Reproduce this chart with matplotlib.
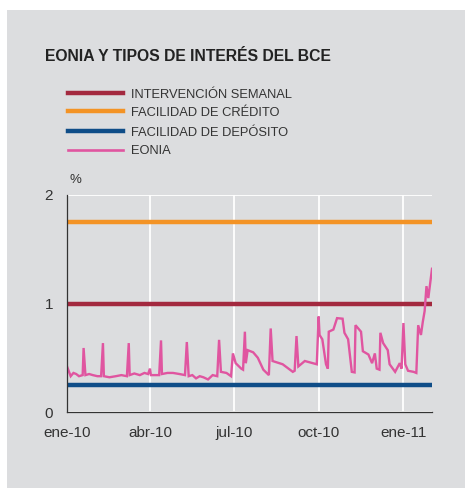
import matplotlib
matplotlib.use("Agg")
import matplotlib.pyplot as plt
from matplotlib.lines import Line2D
from matplotlib.patches import Rectangle
import pandas as pd

plt.rcParams['font.family'] = ['Liberation Sans', 'DejaVu Sans']

# ---- data ----
title = "EONIA Y TIPOS DE INTERÉS DEL BCE"
series_names = ["INTERVENCIÓN SEMANAL", "FACILIDAD DE CRÉDITO",
                "FACILIDAD DE DEPÓSITO", "EONIA"]
intervencion = 1.00
credito = 1.75
deposito = 0.25

eonia_dates = [
    "2010-01-01", "2010-01-05", "2010-01-08", "2010-01-11", "2010-01-14", "2010-01-18",
    "2010-01-19", "2010-01-21", "2010-01-25", "2010-01-29", "2010-02-03", "2010-02-07",
    "2010-02-09", "2010-02-10", "2010-02-16", "2010-02-23", "2010-03-01", "2010-03-07",
    "2010-03-09", "2010-03-10", "2010-03-15", "2010-03-21", "2010-03-26", "2010-03-30",
    "2010-04-01", "2010-04-02", "2010-04-11", "2010-04-13", "2010-04-14", "2010-04-20",
    "2010-04-26", "2010-05-03", "2010-05-09", "2010-05-11", "2010-05-13", "2010-05-17",
    "2010-05-21", "2010-05-25", "2010-05-29", "2010-06-03", "2010-06-08", "2010-06-13",
    "2010-06-15", "2010-06-17", "2010-06-23", "2010-06-28", "2010-06-30", "2010-07-03",
    "2010-07-09", "2010-07-11", "2010-07-13", "2010-07-14", "2010-07-16", "2010-07-22",
    "2010-07-27", "2010-08-02", "2010-08-08", "2010-08-10", "2010-08-12", "2010-08-23",
    "2010-09-03", "2010-09-05", "2010-09-07", "2010-09-09", "2010-09-16", "2010-09-29",
    "2010-10-01", "2010-10-02", "2010-10-05", "2010-10-09", "2010-10-11", "2010-10-12",
    "2010-10-17", "2010-10-21", "2010-10-27", "2010-10-29", "2010-11-02", "2010-11-06",
    "2010-11-09", "2010-11-10", "2010-11-16", "2010-11-18", "2010-11-24", "2010-11-28",
    "2010-12-01", "2010-12-03", "2010-12-06", "2010-12-07", "2010-12-10", "2010-12-15",
    "2010-12-17", "2010-12-23", "2010-12-28", "2010-12-30", "2011-01-01", "2011-01-03",
    "2011-01-06", "2011-01-12", "2011-01-15", "2011-01-17", "2011-01-20", "2011-01-22",
    "2011-01-24", "2011-01-26", "2011-01-28", "2011-02-01",
]
eonia_values = [
    0.42, 0.33, 0.36, 0.35, 0.33, 0.34,
    0.59, 0.34, 0.35, 0.34, 0.33, 0.33,
    0.635, 0.33, 0.32, 0.33, 0.34, 0.33,
    0.635, 0.34, 0.355, 0.34, 0.36, 0.35,
    0.40, 0.34, 0.34, 0.66, 0.35, 0.36,
    0.36, 0.35, 0.34, 0.645, 0.33, 0.34,
    0.31, 0.33, 0.32, 0.30, 0.34, 0.33,
    0.665, 0.37, 0.36, 0.33, 0.54, 0.45,
    0.40, 0.39, 0.74, 0.45, 0.57, 0.55,
    0.50, 0.39, 0.34, 0.77, 0.47, 0.44,
    0.37, 0.38, 0.70, 0.42, 0.47, 0.44,
    0.88, 0.71, 0.67, 0.44, 0.40, 0.74,
    0.76, 0.865, 0.86, 0.73, 0.67, 0.37,
    0.365, 0.80, 0.74, 0.56, 0.53, 0.45,
    0.54, 0.40, 0.39, 0.73, 0.635, 0.57,
    0.44, 0.37, 0.45, 0.40, 0.82, 0.44,
    0.38, 0.37, 0.36, 0.80, 0.71, 0.83,
    0.93, 1.16, 1.05, 1.32,
]
x_ticks = ["2010-01-01", "2010-04-01", "2010-07-01", "2010-10-01", "2011-01-01"]
x_ticklabels = ["ene-10", "abr-10", "jul-10", "oct-10", "ene-11"]
y_ticks = [0, 1, 2]
x_start, x_end = "2010-01-01", "2011-02-01"

colors = ["#a3293f", "#f39325", "#0f4d88", "#e055a0"]

# ---- figure ----
W, H = 465, 488
fig = plt.figure(figsize=(W / 100, H / 100), dpi=100, facecolor="white")
panel_color = "#dcdddf"
fig.patches.append(Rectangle((7 / W, 0), 1 - 7 / W, 1 - 10 / H,
                             transform=fig.transFigure, facecolor=panel_color,
                             edgecolor="none", zorder=-10))

ax = fig.add_axes([67 / W, 1 - 412 / H, (432 - 67) / W, (412 - 195) / H])
ax.set_facecolor(panel_color)

dates = pd.to_datetime(eonia_dates)
xs, xe = pd.Timestamp(x_start), pd.Timestamp(x_end)

ax.hlines(credito, xs, xe, color=colors[1], lw=3.2, zorder=3)
ax.hlines(intervencion, xs, xe, color=colors[0], lw=3.2, zorder=3)
ax.hlines(deposito, xs, xe, color=colors[2], lw=3.2, zorder=3)
ax.plot(dates, eonia_values, color=colors[3], lw=1.7, zorder=4,
        solid_joinstyle="miter")

ax.set_xlim(xs, xe)
ax.set_ylim(0, 2)
ax.set_xticks(pd.to_datetime(x_ticks))
ax.set_xticklabels(x_ticklabels)
ax.set_yticks(y_ticks)
ax.set_yticklabels([str(v) for v in y_ticks])
ax.tick_params(axis="both", length=0, labelsize=11, labelcolor="#333333")
ax.tick_params(axis="x", pad=10)
ax.tick_params(axis="y", pad=10)

ax.grid(True, color="white", lw=1.3, zorder=1)
ax.set_axisbelow(True)
for s in ["top", "right"]:
    ax.spines[s].set_visible(False)
for s in ["left", "bottom"]:
    ax.spines[s].set_color("#333333")
    ax.spines[s].set_linewidth(0.9)
    ax.spines[s].set_zorder(5)

# title
fig.text(45 / W, 1 - 61 / H, title, fontsize=11.3, fontweight="bold",
         color="#222222", va="baseline", ha="left")

# legend (manual)
leg_y = [92.5, 111.5, 130.5, 149.5]
lws = [3.2, 3.2, 3.2, 1.9]
for name, c, y, lw in zip(series_names, colors, leg_y, lws):
    fig.lines.append(Line2D([68 / W, 123 / W], [1 - y / H, 1 - y / H],
                            transform=fig.transFigure, color=c, lw=lw))
    fig.text(131 / W, 1 - (y + 5) / H, name, fontsize=9.3, color="#333333",
             va="baseline", ha="left")

fig.text(69 / W, 1 - 183 / H, "%", fontsize=9.5, color="#333333",
         va="baseline", ha="left")

fig.savefig("out.png", dpi=100, facecolor="white")
